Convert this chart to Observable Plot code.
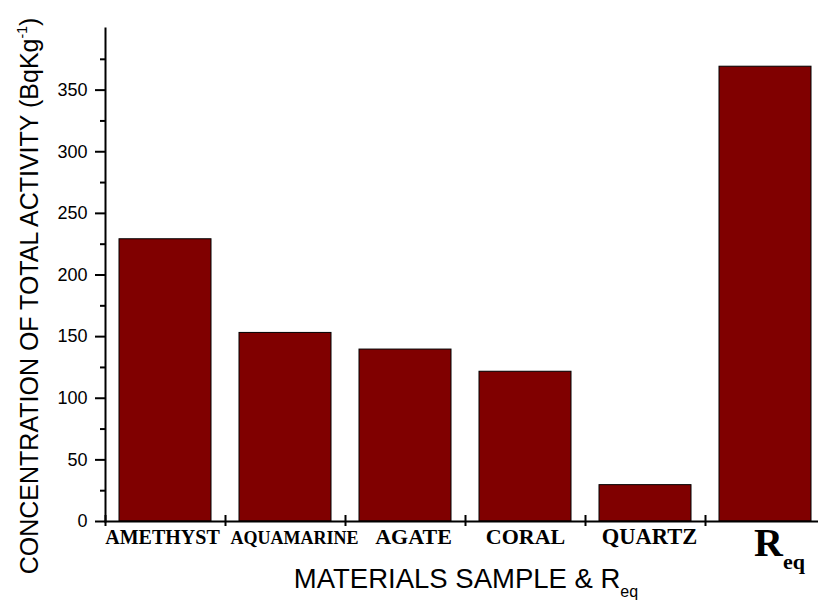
<!DOCTYPE html>
<html><head><meta charset="utf-8">
<script src="https://cdn.jsdelivr.net/npm/d3@7"></script>
<script src="https://cdn.jsdelivr.net/npm/@observablehq/plot@0.6"></script>
<style>body{margin:0;background:#fff;}</style>
</head><body><div id="chart"></div>
<script>
const categories = ["AMETHYST", "AQUAMARINE", "AGATE", "CORAL", "QUARTZ", "Req"];
const activity = [229, 153, 139.5, 121.5, 29.5, 369];
const yMajorTicks = [0, 50, 100, 150, 200, 250, 300, 350];
const yMinorTicks = [25, 75, 125, 175, 225, 275, 325, 375];
const yTitle = "CONCENTRATION OF TOTAL ACTIVITY (BqKg";
const xTitle = "MATERIALS SAMPLE & R";

const data = categories.map((c, i) => ({category: c, value: activity[i]}));
const labelSize = {AMETHYST: 20, AQUAMARINE: 18, AGATE: 22, CORAL: 22, QUARTZ: 22.5, Req: 40};
const labelShift = {AMETHYST: -3, AQUAMARINE: 9, AGATE: 8, CORAL: 0, QUARTZ: 4, Req: 14};

const chart = Plot.plot({
  width: 818, height: 602,
  marginLeft: 105, marginTop: 28, marginBottom: 81, marginRight: 0,
  style: {background: "white", fontFamily: "'Liberation Sans', Arial, sans-serif", color: "black"},
  x: {domain: categories, range: [105, 825], paddingInner: 0.23, paddingOuter: 0.115, axis: null},
  y: {domain: [0, 400], axis: null},
  marks: [
    Plot.barY(data, {x: "category", y: "value", fill: "#800000", stroke: "#000", strokeWidth: 1}),
    Plot.axisY(yMajorTicks, {anchor: "left", tickSize: 10, tickPadding: 8, fontSize: 18, strokeWidth: 2, label: null}),
    Plot.axisY(yMinorTicks, {anchor: "left", tickSize: 5, text: null, strokeWidth: 2, label: null}),
    Plot.frame({anchor: "left", strokeWidth: 2}),
    Plot.frame({anchor: "bottom", strokeWidth: 2}),
    Plot.axisX(categories, {anchor: "bottom", tickSize: 11, dy: -6, dx: -60, text: null, strokeWidth: 2, label: null}),
    Plot.text(categories, {
      x: d => d, frameAnchor: "bottom", lineAnchor: "bottom",
      dy: 22, fontSize: d => labelSize[d],
      fontFamily: "'Liberation Serif', 'Times New Roman', serif", fontWeight: "bold", fill: "#000"
    })
  ]
});

const svg = d3.select(chart);
svg.selectAll("text").filter(function() { return this.textContent in labelShift; }).each(function() {
  const t = d3.select(this);
  const name = this.textContent;
  t.attr("dx", labelShift[name]);
  if (name === "Req") {
    t.text("");
    t.attr("dy", 12);
    t.append("tspan").attr("font-size", 40).text("R");
    t.append("tspan").attr("font-size", 22).attr("dy", 13).text("eq");
  }
});

// y-axis title
const yt = svg.append("text")
  .attr("transform", "translate(38,296) rotate(-90)")
  .attr("text-anchor", "middle")
  .attr("font-family", "'Liberation Sans', Arial, sans-serif")
  .attr("font-size", 25).attr("fill", "#000");
yt.append("tspan").text(yTitle);
yt.append("tspan").attr("font-size", 14).attr("dy", -11).text("-1");
yt.append("tspan").attr("dy", 11).text(")");

// x-axis title
const xt = svg.append("text")
  .attr("x", 466).attr("y", 588)
  .attr("text-anchor", "middle")
  .attr("font-family", "'Liberation Sans', Arial, sans-serif")
  .attr("font-size", 27.5).attr("fill", "#000");
xt.append("tspan").text(xTitle);
xt.append("tspan").attr("font-size", 16).attr("dy", 9).text("eq");

document.getElementById("chart").appendChild(chart);
</script>
</body></html>
